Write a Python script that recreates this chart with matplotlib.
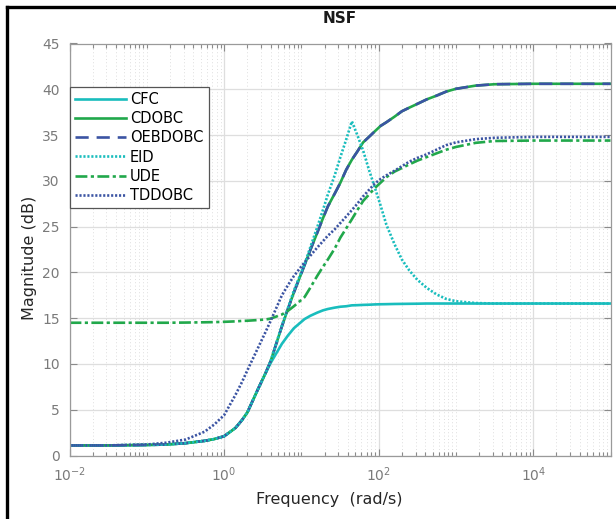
import matplotlib
matplotlib.use("Agg")
import matplotlib.pyplot as plt
from matplotlib.lines import Line2D
from matplotlib.ticker import FixedLocator, LogLocator, NullFormatter

plt.rcParams["font.family"] = ["DejaVu Sans"]

# Bode magnitude readings (rad/s, dB)
freq = [0.01, 0.03, 0.1, 0.18, 0.32, 0.56, 0.75, 1.0, 1.4, 1.7, 2.0, 2.8, 3.4,
        4.0, 5.6, 6.7, 8.0, 11, 13, 16, 19, 22, 27, 32, 38, 45, 53, 63, 75, 89,
        106, 126, 160, 200, 250, 316, 420, 560, 750, 1000, 1800, 3160, 1e4,
        3.16e4, 1e5]

cfc = [1.1, 1.1, 1.15, 1.2, 1.35, 1.6, 1.8, 2.1, 3.0, 3.85, 4.7, 7.4, 8.9,
       10.1, 12.2, 13.1, 13.9, 14.9, 15.25, 15.6, 15.85, 16.0, 16.15, 16.25,
       16.3, 16.4, 16.42, 16.45, 16.47, 16.5, 16.52, 16.53, 16.55, 16.56, 16.57,
       16.58, 16.6, 16.6, 16.6, 16.6, 16.6, 16.6, 16.6, 16.6, 16.6]
cdobc = [1.1, 1.1, 1.15, 1.2, 1.35, 1.6, 1.8, 2.1, 3.0, 3.85, 4.7, 7.4, 8.9,
         10.3, 14.1, 16.0, 17.8, 20.8, 22.4, 24.3, 25.9, 27.2, 28.6, 29.8, 31.2,
         32.3, 33.2, 34.2, 34.8, 35.4, 36.0, 36.4, 37.0, 37.6, 38.0, 38.4, 38.9,
         39.3, 39.75, 40.05, 40.4, 40.55, 40.6, 40.6, 40.6]
oebdobc = [1.1, 1.1, 1.15, 1.2, 1.35, 1.6, 1.8, 2.1, 3.0, 3.85, 4.7, 7.4, 8.9,
           10.3, 14.1, 16.0, 17.8, 20.8, 22.4, 24.3, 25.9, 27.2, 28.6, 29.8,
           31.2, 32.3, 33.2, 34.2, 34.8, 35.4, 36.0, 36.4, 37.0, 37.6, 38.0,
           38.4, 38.9, 39.3, 39.75, 40.05, 40.4, 40.55, 40.6, 40.6, 40.6]
eid = [1.1, 1.1, 1.15, 1.2, 1.35, 1.6, 1.8, 2.1, 3.0, 3.85, 4.7, 7.4, 8.9,
       10.3, 14.2, 16.1, 18.0, 20.9, 22.7, 24.9, 26.8, 28.5, 30.6, 32.6, 34.5,
       36.5, 35.0, 33.3, 31.2, 29.3, 27.3, 25.2, 23.1, 21.4, 20.2, 19.2, 18.3,
       17.6, 17.1, 16.85, 16.65, 16.6, 16.6, 16.6, 16.6]
ude = [14.5, 14.5, 14.5, 14.5, 14.52, 14.55, 14.57, 14.6, 14.65, 14.7, 14.72,
       14.8, 14.85, 14.95, 15.4, 15.8, 16.3, 17.3, 18.3, 19.6, 20.6, 21.4, 22.6,
       23.8, 24.8, 25.8, 26.8, 27.8, 28.5, 29.2, 29.8, 30.4, 31.0, 31.4, 31.8,
       32.2, 32.6, 33.0, 33.4, 33.7, 34.15, 34.35, 34.4, 34.4, 34.4]
tddobc = [1.1, 1.1, 1.2, 1.4, 1.75, 2.6, 3.4, 4.4, 6.6, 8.0, 9.3, 11.9, 13.4,
          14.7, 17.5, 18.6, 19.6, 21.1, 21.8, 22.7, 23.4, 24.0, 24.7, 25.4,
          26.1, 26.8, 27.5, 28.3, 29.0, 29.7, 30.2, 30.6, 31.1, 31.6, 32.1,
          32.5, 32.9, 33.4, 33.9, 34.2, 34.55, 34.7, 34.8, 34.8, 34.8]

labels = ["CFC", "CDOBC", "OEBDOBC", "EID", "UDE", "TDDOBC"]
yticks = [0, 5, 10, 15, 20, 25, 30, 35, 40, 45]

CYAN = "#19bdbd"
GREEN = "#21a84b"
BLUE = "#3b54a3"
GRAY = "#8a8a8a"

fig = plt.figure(figsize=(6.16, 5.19), dpi=100)
ax = fig.add_axes([69.5 / 616, 1 - 455.5 / 519, 541 / 616, 412 / 519])

lw = 1.9
ax.plot(freq, cfc, color=CYAN, lw=lw, label=labels[0])
ax.plot(freq, cdobc, color=GREEN, lw=lw, label=labels[1])
ax.plot(freq, oebdobc, color=BLUE, lw=lw, dashes=(5, 3), label=labels[2])
ax.plot(freq, eid, color=CYAN, lw=lw, dashes=(0.8, 0.7), label=labels[3])
ax.plot(freq, ude, color=GREEN, lw=lw, dashes=(4.5, 1.3, 1.2, 1.3), label=labels[4])
ax.plot(freq, tddobc, color=BLUE, lw=lw, dashes=(0.8, 0.7), label=labels[5])

ax.set_xscale("log")
ax.set_xlim(1e-2, 1e5)
ax.set_ylim(0, 45)
ax.xaxis.set_major_locator(FixedLocator([1e-2, 1e0, 1e2, 1e4]))
ax.xaxis.set_minor_locator(LogLocator(base=10, subs=[1, 2, 3, 4, 5, 6, 7, 8, 9], numticks=20))
ax.xaxis.set_minor_formatter(NullFormatter())
ax.set_yticks(yticks)

ax.grid(True, which="major", color="#dedede", lw=0.9, ls="-")
ax.grid(True, which="minor", axis="x", color="#d4d4d4", lw=0.6, ls=(0, (1, 3)))
ax.set_axisbelow(True)

for s in ax.spines.values():
    s.set_color("#9a9a9a")
    s.set_linewidth(0.9)
ax.tick_params(which="both", direction="in", top=True, right=True, colors=GRAY,
               labelsize=10, width=0.8)
ax.tick_params(which="major", length=5, pad=7)
ax.tick_params(which="minor", length=3)
for t in ax.get_xticklabels() + ax.get_yticklabels():
    t.set_color("#7a7a7a")

ax.set_title("NSF", fontsize=11, fontweight="bold", color="#1a1a1a", pad=15)
ax.set_xlabel("Frequency  (rad/s)", fontsize=11.5, color="#262626", x=0.48, labelpad=6)
ax.set_ylabel("Magnitude (dB)", fontsize=11.5, color="#262626", y=0.48, labelpad=4)

leg = ax.legend(loc="upper left", bbox_to_anchor=(0.0, 0.894), borderaxespad=0,
                fontsize=10.5, handlelength=3.5, handletextpad=0.3,
                labelspacing=0.28, borderpad=0.35, fancybox=False, framealpha=1)
leg.get_frame().set_edgecolor("#555555")
leg.get_frame().set_linewidth(0.9)

# black frame on left and top of the figure
fig.add_artist(Line2D([7 / 616, 7 / 616], [0, 1 - 7 / 519], color="black", lw=2.4))
fig.add_artist(Line2D([7 / 616, 1], [1 - 7 / 519, 1 - 7 / 519], color="black", lw=2.4))

fig.savefig("out.png", dpi=100)
